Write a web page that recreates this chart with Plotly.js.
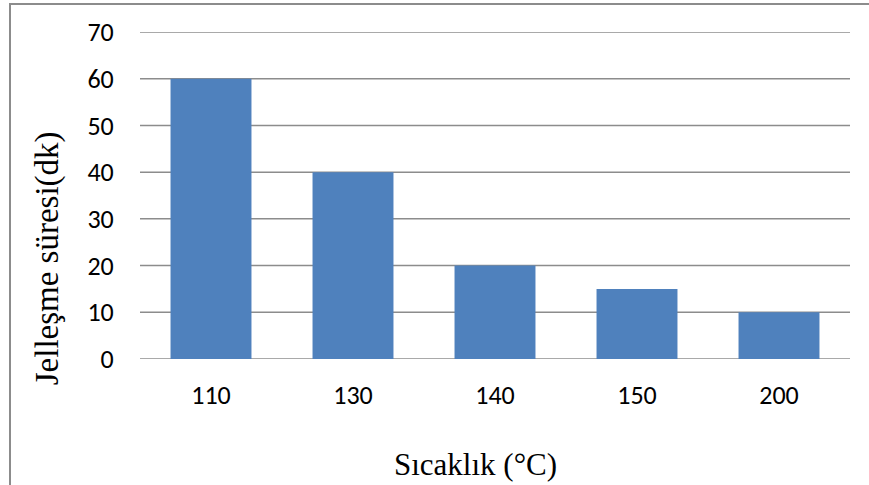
<!DOCTYPE html>
<html>
<head>
<meta charset="utf-8">
<script src="https://cdn.plot.ly/plotly-3.0.1.min.js"></script>
<style>
  html, body { margin: 0; padding: 0; background: #ffffff; }
  #frame { position: absolute; left: 9px; top: 3px; width: 900px; height: 520px;
           border-left: 2px solid #8c8c8c; border-top: 2px solid #8c8c8c; }
  #chart { position: absolute; left: 0; top: 0; width: 869px; height: 485px; }
</style>
</head>
<body>
<div id="frame"></div>
<div id="chart"></div>
<script>
// Gelation time vs. temperature
const temperatures = ['110', '130', '140', '150', '200'];
const gelTimes = [60, 40, 20, 15, 10];
const yTicks = [0, 10, 20, 30, 40, 50, 60, 70];

const xTitle = 'Sıcaklık (°C)';
const yTitle = 'Jelleşme süresi(dk)';

const tickFont = { family: 'Carlito, "Open Sans", "Liberation Sans", sans-serif', size: 26, color: '#000000' };
const serif = '"Liberation Serif", "Times New Roman", serif';

const trace = {
  type: 'bar',
  x: temperatures,
  y: gelTimes,
  marker: { color: '#4f81bd', line: { width: 0 } },
  hoverinfo: 'x+y'
};

// horizontal grid lines drawn as shapes so the top line at 70 shows too
const gridShapes = yTicks.map(v => ({
  type: 'line', xref: 'paper', yref: 'y',
  x0: 0, x1: 1, y0: v, y1: v,
  layer: 'below',
  line: { color: '#8c8c8c', width: 1.5 }
}));

const layout = {
  width: 869,
  height: 485,
  paper_bgcolor: 'rgba(0,0,0,0)',
  plot_bgcolor: 'rgba(0,0,0,0)',
  margin: { l: 140, r: 19, t: 32, b: 126 },
  bargap: 0.43,
  showlegend: false,
  xaxis: {
    type: 'category',
    showgrid: false,
    zeroline: false,
    showline: false,
    ticks: 'outside',
    ticklen: 13,
    tickcolor: 'rgba(0,0,0,0)',
    tickfont: tickFont
  },
  yaxis: {
    range: [0, 70],
    tickvals: yTicks,
    showgrid: false,
    zeroline: false,
    showline: false,
    ticks: 'outside',
    ticklen: 20,
    tickcolor: 'rgba(0,0,0,0)',
    tickfont: tickFont
  },
  shapes: gridShapes,
  annotations: [
    {
      text: xTitle, xref: 'paper', yref: 'paper',
      x: 0.4725, y: -0.323, xanchor: 'center', yanchor: 'middle',
      showarrow: false, font: { family: serif, size: 31, color: '#000000' }
    },
    {
      text: yTitle, xref: 'paper', yref: 'paper',
      x: -0.131, y: 0.308, xanchor: 'center', yanchor: 'middle',
      textangle: -90, showarrow: false, font: { family: serif, size: 33, color: '#000000' }
    }
  ]
};

Plotly.newPlot('chart', [trace], layout, { displayModeBar: false, staticPlot: true });
</script>
</body>
</html>
